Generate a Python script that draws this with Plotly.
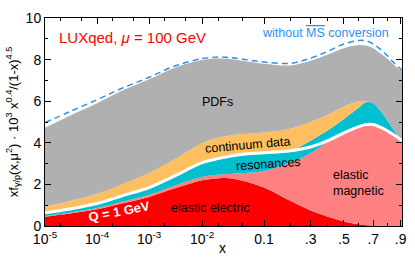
import numpy as np
import plotly.graph_objects as go

# ---- data ----
x_vals = [1e-5, 3e-5, 1e-4, 3e-4, 1e-3, 3e-3, 1e-2, 0.02, 0.03, 0.05, 0.1, 0.2,
          0.3, 0.4, 0.5, 0.6, 0.65, 0.7, 0.75, 0.8, 0.85, 0.9, 0.91]
elastic_electric = [0.45, 0.6, 0.8, 1.08, 1.4, 1.8, 2.2, 2.3, 2.3, 2.18, 1.85, 1.2,
                    0.75, 0.45, 0.22, 0.08, 0.04, 0.02, 0.01, 0.0, 0.0, 0.0, 0.0]
elastic_magnetic = [0.03, 0.04, 0.06, 0.08, 0.10, 0.14, 0.15, 0.17, 0.20, 0.37, 0.80, 1.85,
                    2.75, 3.60, 4.23, 4.67, 4.81, 4.83, 4.71, 4.55, 4.35, 4.12, 4.05]
resonances = [0.12, 0.14, 0.17, 0.24, 0.30, 0.41, 0.65, 0.73, 0.80, 0.85, 0.83, 0.57,
              0.60, 0.55, 0.70, 0.95, 1.10, 1.05, 0.83, 0.55, 0.25, 0.03, 0.0]
continuum = [0.33, 0.42, 0.52, 0.60, 0.75, 0.85, 0.98, 1.05, 1.05, 1.02, 1.02, 1.06,
             0.90, 0.75, 0.60, 0.30, 0.05, 0.0, 0.0, 0.0, 0.0, 0.0, 0.0]
pdfs = [3.79, 4.10, 4.35, 4.50, 4.50, 4.40, 4.00, 3.80, 3.68, 3.53, 3.30, 3.04,
        2.95, 2.90, 2.80, 2.70, 2.68, 2.65, 2.75, 2.95, 3.15, 3.33, 3.37]
q1gev_line = [0.64, 0.82, 1.08, 1.45, 1.85, 2.4, 3.05, 3.25, 3.35, 3.45, 3.52, 3.62,
              3.8, 4.1, 4.48, 4.78, 4.88, 4.88, 4.75, 4.58, 4.38, 4.15, 4.07]
no_msbar = [4.97, 5.5, 6.07, 6.62, 7.15, 7.68, 8.05, 8.12, 8.1, 8.02, 7.88, 7.82,
            8.07, 8.4, 8.75, 8.92, 8.9, 8.75, 8.5, 8.2, 7.85, 7.55, 7.48]

tick_x = [1e-5, 1e-4, 1e-3, 1e-2, 0.1, 0.3, 0.5, 0.7, 0.9]
tick_text = ["10<sup>-5</sup>", "10<sup>-4</sup>", "10<sup>-3</sup>", "10<sup>-2</sup>",
             "0.1", ".3", ".5", ".7", ".9"]
minor_x = [2e-5, 5e-5, 2e-4, 5e-4, 2e-3, 5e-3, 2e-2, 5e-2, 0.2, 0.4, 0.6, 0.8]
x_min, x_max = 1e-5, 0.91


# ---- x scale: log x stretched towards large x ----
def xs(v):
    v = np.asarray(v, dtype=float)
    return np.log10(v) + 2.09 * v


u = xs(x_vals)
FONT = "Liberation Sans, Arial, Helvetica, sans-serif"

fig = go.Figure()
layers = [
    (elastic_electric, "#FF0000", "elastic electric"),
    (elastic_magnetic, "#FF8080", "elastic magnetic"),
    (resonances, "#00BFCF", "resonances"),
    (continuum, "#FDBF5F", "continuum data"),
    (pdfs, "#B0B0B0", "PDFs"),
]
for vals, col, name in layers:
    fig.add_trace(go.Scatter(
        x=u, y=vals, name=name, stackgroup="one", mode="lines",
        line=dict(width=0, color=col, shape="spline", smoothing=1.0),
        fillcolor=col, showlegend=False, hoverinfo="skip"))

fig.add_trace(go.Scatter(x=u, y=q1gev_line, mode="lines", showlegend=False,
                         hoverinfo="skip",
                         line=dict(color="white", width=3, shape="spline")))
fig.add_trace(go.Scatter(x=u, y=no_msbar, mode="lines", showlegend=False,
                         hoverinfo="skip",
                         line=dict(color="#2F8FEF", width=1.5, dash="6px,4px",
                                   shape="spline")))

ann = [
    dict(text="LUXqed, <i>μ</i> = 100 GeV", x=0.033, y=0.905, xanchor="left",
         font=dict(size=15, color="#FF0000")),
    dict(text="without <span style='text-decoration:overline'>MS</span> conversion",
         x=0.97, y=0.93, xanchor="right", font=dict(size=12.5, color="#2F8FEF")),
    dict(text="PDFs", x=0.483, y=0.596, font=dict(size=12.5, color="black")),
    dict(text="continuum data", x=0.569, y=0.39, textangle=-5,
         font=dict(size=12.5, color="black")),
    dict(text="resonances", x=0.627, y=0.298, textangle=-4,
         font=dict(size=12.5, color="black")),
    dict(text="elastic<br>magnetic", x=0.80, y=0.205, xanchor="left", align="left",
         font=dict(size=12.5, color="black")),
    dict(text="elastic electric", x=0.464, y=0.087, font=dict(size=12.5, color="black")),
    dict(text="<b>Q = 1 GeV</b>", x=0.207, y=0.072, textangle=-11,
         font=dict(size=13, color="white")),
    dict(text="x", x=0.497, y=-0.108, font=dict(size=14, color="black")),
]
for a in ann:
    a.setdefault("xanchor", "center")
    a.setdefault("yanchor", "middle")
    a.update(xref="paper", yref="paper", showarrow=False)
    a["font"]["family"] = FONT
    fig.add_annotation(**a)

axis_common = dict(showline=True, linecolor="black", linewidth=1, mirror="ticks",
                   ticks="inside", tickcolor="black", showgrid=False, zeroline=False,
                   ticklabeloverflow="allow",
                   tickfont=dict(family=FONT, size=14, color="black"))

fig.update_xaxes(range=[float(xs(x_min)), float(xs(x_max))],
                 tickmode="array", tickvals=list(xs(tick_x)), ticktext=tick_text,
                 ticklen=6,
                 minor=dict(tickmode="array", tickvals=list(xs(minor_x)), ticklen=3,
                            ticks="inside", tickcolor="black"),
                 **axis_common)
fig.update_yaxes(range=[0, 10], dtick=2, ticklen=6,
                 minor=dict(dtick=1, ticklen=3, ticks="inside", tickcolor="black"),
                 title=dict(text="xf<sub>γ/p</sub>(x,μ<sup>2</sup>) · 10<sup>3</sup> x<sup>0.4</sup>/(1-x)<sup>4.5</sup>",
                            font=dict(family=FONT, size=13, color="black"), standoff=4),
                 **axis_common)

fig.update_layout(width=415, height=259,
                  margin=dict(l=45, r=8, t=18, b=33),
                  plot_bgcolor="white", paper_bgcolor="white",
                  font=dict(family=FONT), hovermode=False)

fig.write_html("out.html", config={"displayModeBar": False},
               post_script="document.body.style.margin='0';document.body.style.overflow='hidden';")
